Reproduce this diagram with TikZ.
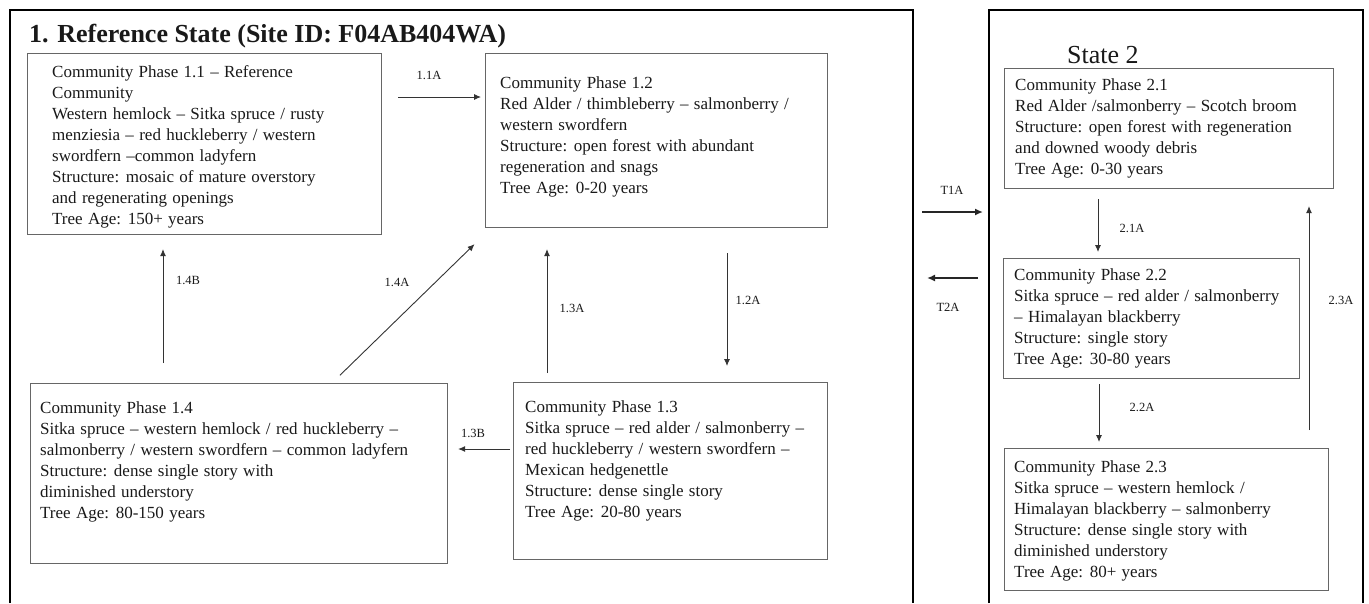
\documentclass[tikz,border=0pt]{standalone}
\usepackage{fontspec}
\setmainfont{Liberation Serif}
\newfontfamily\phasefamily{Liberation Serif}[WordSpace=1.25]
\usetikzlibrary{arrows.meta}

\begin{document}
\begin{tikzpicture}[
  x=1pt, y=-1pt,
  every node/.style = {inner sep=0pt, text=black!90},
  statebox/.style = {line width=2.6pt, draw=black},
  phase/.style = {draw=black!60, line width=1.1pt, anchor=north west},
  phasetext/.style = {anchor=north west, align=left, font=\phasefamily\fontsize{17}{21}\selectfont},
  lbl/.style = {font=\fontsize{12.5}{14}\selectfont},
  trans/.style = {-{Latex[length=7pt, width=6pt]}, line width=0.9pt, draw=black!80},
  ttrans/.style = {-{Latex[length=8pt, width=7pt]}, line width=1.8pt, draw=black!85}
]
  \useasboundingbox (0,0) rectangle (1369,603);

  % state frames, open at the bottom
  \coordinate (s1ne) at (913,10);
  \coordinate (s2nw) at (989,10);
  \draw[statebox] (10,603) |- (s1ne) -- (913,603);
  \draw[statebox] (989,603) |- (1363,10) -- (1363,603);
  \node[font=\fontsize{26}{30}\selectfont\bfseries, anchor=base west] (s1title) at (29,42) {1. Reference State (Site ID: F04AB404WA)};
  \node[font=\fontsize{26}{30}\selectfont, anchor=base west] (s2title) at (1067,63) {State 2};

  % community phase boxes
  \node[phase, minimum width=354pt, minimum height=181pt] (p11) at (27,53) {};
  \node[phase, minimum width=342pt, minimum height=174pt] (p12) at (485,53) {};
  \node[phase, minimum width=314pt, minimum height=177pt] (p13) at (513,382) {};
  \node[phase, minimum width=417pt, minimum height=180pt] (p14) at (30,383) {};
  \node[phase, minimum width=329pt, minimum height=120pt] (p21) at (1004,68) {};
  \node[phase, minimum width=296pt, minimum height=120pt] (p22) at (1003,258) {};
  \node[phase, minimum width=324pt, minimum height=142pt] (p23) at (1004,448) {};

  \node[phasetext] (p11t) at (52,65.4) {Community Phase 1.1 – Reference\\ Community\\ Western hemlock – Sitka spruce / rusty\\ menziesia – red huckleberry / western\\ swordfern –common ladyfern\\ Structure: mosaic of mature overstory\\ and regenerating openings\\ Tree Age: 150+ years};
  \node[phasetext] (p12t) at (500,76.4) {Community Phase 1.2\\ Red Alder / thimbleberry – salmonberry /\\ western swordfern\\ Structure: open forest with abundant\\ regeneration and snags\\ Tree Age: 0-20 years};
  \node[phasetext] (p13t) at (525,400.4) {Community Phase 1.3\\ Sitka spruce – red alder / salmonberry –\\ red huckleberry / western swordfern –\\ Mexican hedgenettle\\ Structure: dense single story\\ Tree Age: 20-80 years};
  \node[phasetext] (p14t) at (40,401.4) {Community Phase 1.4\\ Sitka spruce – western hemlock / red huckleberry –\\ salmonberry / western swordfern – common ladyfern\\ Structure: dense single story with\\ diminished understory\\ Tree Age: 80-150 years};
  \node[phasetext] (p21t) at (1015,78.4) {Community Phase 2.1\\ Red Alder /salmonberry – Scotch broom\\ Structure: open forest with regeneration\\ and downed woody debris\\ Tree Age: 0-30 years};
  \node[phasetext] (p22t) at (1014,268.4) {Community Phase 2.2\\ Sitka spruce – red alder / salmonberry\\ – Himalayan blackberry\\ Structure: single story\\ Tree Age: 30-80 years};
  \node[phasetext] (p23t) at (1014,460.4) {Community Phase 2.3\\ Sitka spruce – western hemlock /\\ Himalayan blackberry – salmonberry\\ Structure: dense single story with\\ diminished understory\\ Tree Age: 80+ years};

  % pathways
  \draw[trans, shorten <=16pt, shorten >=4pt] (p11.east |- 0,97) -- (p12.west |- 0,97);
  \draw[trans, shorten <=25pt, shorten >=16pt] (p12.south -| 727,0) -- (p13.north -| 727,0);
  \draw[trans, shorten <=9pt, shorten >=21pt] (p13.north -| 547,0) -- (p12.south -| 547,0);
  \draw[trans, shorten <=11pt, shorten >=23pt] (p14.north -| 332,0) -- (p12.south -| 491,0);
  \draw[trans, shorten <=20pt, shorten >=14pt] (p14.north -| 163,0) -- (p11.south -| 163,0);
  \draw[trans, shorten <=3pt, shorten >=10pt] (p13.west |- 0,449) -- (p14.east |- 0,449);
  \draw[trans, shorten <=10pt, shorten >=6pt] (p21.south -| 1098,0) -- (p22.north -| 1098,0);
  \draw[trans, shorten <=5pt, shorten >=6pt] (p22.south -| 1099,0) -- (p23.north -| 1099,0);
  \draw[trans, shorten <=18pt, shorten >=17pt] (p23.north -| 1309,0) -- (p21.south -| 1309,0);
  % transitions
  \draw[ttrans, shorten <=9pt, shorten >=6pt] (s1ne |- 0,212) -- (s2nw |- 0,212);
  \draw[ttrans, shorten <=11pt, shorten >=14pt] (s2nw |- 0,278) -- (s1ne |- 0,278);

  \node[lbl] (l11a) at (429,75) {1.1A};
  \node[lbl] (l12a) at (748,300) {1.2A};
  \node[lbl] (l13a) at (572,308) {1.3A};
  \node[lbl] (l14a) at (397,282) {1.4A};
  \node[lbl] (l14b) at (188,280) {1.4B};
  \node[lbl] (l13b) at (473,433) {1.3B};
  \node[lbl] (lt1a) at (952,190) {T1A};
  \node[lbl] (lt2a) at (948,307) {T2A};
  \node[lbl] (l21a) at (1132,228) {2.1A};
  \node[lbl] (l22a) at (1142,407) {2.2A};
  \node[lbl] (l23a) at (1341,300) {2.3A};
\end{tikzpicture}
\end{document}
